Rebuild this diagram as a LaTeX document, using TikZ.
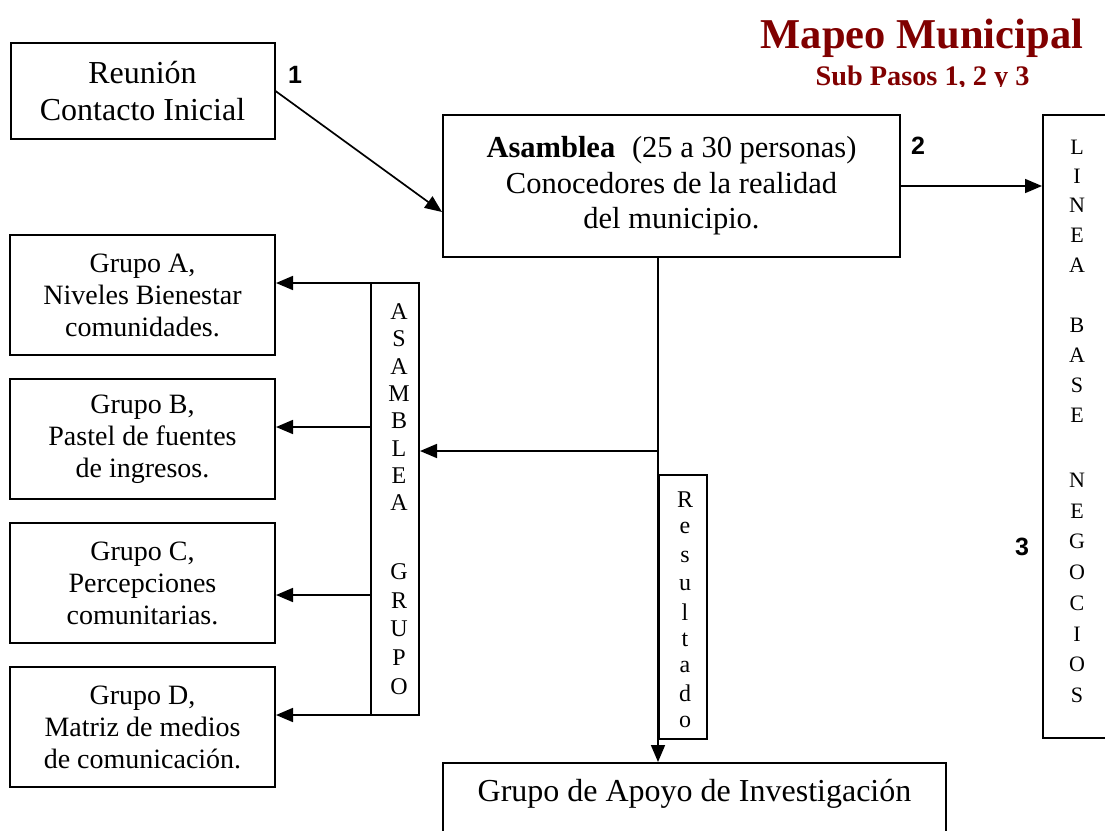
\documentclass[tikz,border=0pt]{standalone}
\usepackage{fontspec}
\setmainfont{Liberation Serif}
\newfontfamily\numfont{Liberation Sans}
\usetikzlibrary{arrows.meta}
\definecolor{titlered}{RGB}{128,0,0}
\begin{document}
\begin{tikzpicture}[x=1pt,y=-1pt,
  box/.style={draw, line width=2pt, inner sep=0pt, align=center},
  arr/.style={line width=1.7pt, -{Triangle[length=17pt,width=14pt]}},
  grp/.style={box, minimum width=265pt, minimum height=120pt, font=\fontsize{28}{32}\selectfont},
  vlet/.style={inner sep=0pt, font=\fontsize{24}{24}\selectfont},
  llet/.style={inner sep=0pt, font=\fontsize{22}{22}\selectfont},
  num/.style={inner sep=0pt, font=\numfont\bfseries\fontsize{25}{25}\selectfont}]
\useasboundingbox (0,0) rectangle (1105,830);

% title
\node[font=\bfseries\fontsize{42.5}{42.5}\selectfont, text=titlered, inner sep=0pt, anchor=base] (title) at (922,48) {Mapeo Municipal};
\begin{scope}
\clip (700,55) rectangle (1105,86.5);
\node[font=\bfseries\fontsize{28.3}{28.3}\selectfont, text=titlered, inner sep=0pt, anchor=base] (sub) at (922.5,85) {Sub Pasos 1, 2 y 3};
\end{scope}

% main boxes
\node[box, minimum width=264pt, minimum height=96pt, font=\fontsize{32}{37}\selectfont] (reunion) at (142.5,91) {Reunión\\Contacto Inicial};
\node[box, minimum width=457pt, minimum height=142pt, font=\fontsize{30.5}{35.5}\selectfont] (asamblea) at (671.5,186)
  {\textbf{Asamblea}\hspace{0.55em}(25 a 30 personas)\\Conocedores de la realidad\\del municipio.};
\node[box, minimum width=70pt, minimum height=623pt] (linea) at (1078,426.5) {};
\node[box, minimum width=503pt, minimum height=90pt] (apoyo) at (694.5,808) {};
\node[inner sep=0pt, font=\fontsize{32}{37}\selectfont] (apoyotxt) at (694.5,794) {Grupo de Apoyo de Investigación};

% groups
\node[grp] (grpA) at (142.5,295) {Grupo A,\\Niveles Bienestar\\comunidades.};
\node[grp] (grpB) at (142.5,439) {Grupo B,\\Pastel de fuentes\\de ingresos.};
\node[grp] (grpC) at (142.5,583) {Grupo C,\\Percepciones\\comunitarias.};
\node[grp] (grpD) at (142.5,727) {Grupo D,\\Matriz de medios\\de comunicación.};

% vertical boxes
\node[box, minimum width=48pt, minimum height=432pt] (asg) at (395,499) {};
\node[box, minimum width=48pt, minimum height=264pt] (resultado) at (683,607) {};

% letters ASAMBLEA GRUPO
\foreach \l/\y [count=\i] in {A/312,S/339,A/367,M/394,B/421,L/449,E/476,A/503,G/572,R/601,U/629,P/658,O/687}
  \node[vlet] (asg\i) at (399,\y) {\l};
% letters Resultado
\foreach \l/\y [count=\i] in {R/500,e/528,s/557,u/585,l/612,t/640,a/667,d/693,o/722}
  \node[vlet] (res\i) at (685,\y) {\l};
% letters LINEA BASE NEGOCIOS
\foreach \l/\y [count=\i] in {L/147,I/176,N/205,E/235,A/265,B/325,A/355,S/385,E/415,N/480,E/511,G/541,O/572,C/603,I/634,O/664,S/695}
  \node[llet] (lin\i) at (1077,\y) {\l};

% step numbers
\node[num] (n1) at (295,75) {1};
\node[num] (n2) at (918,146) {2};
\node[num] (n3) at (1022,547) {3};

% connectors
\draw[arr] (reunion.east) -- ([yshift=-26pt]asamblea.west);
\draw[arr] (asamblea.east) -- (asamblea.east -| linea.west);
\coordinate (jn) at (resultado.west |- 0,451);
\draw[arr] (asamblea.south -| resultado.west) -- (apoyo.north -| resultado.west);
\draw[arr] (jn) -- (jn -| asg.east);
\draw[arr] ([yshift=12pt]grpA.east -| asg.west) -- ([yshift=12pt]grpA.east);
\draw[arr] ([yshift=12pt]grpB.east -| asg.west) -- ([yshift=12pt]grpB.east);
\draw[arr] ([yshift=-12pt]grpC.east -| asg.west) -- ([yshift=-12pt]grpC.east);
\draw[arr] ([yshift=12pt]grpD.east -| asg.west) -- ([yshift=12pt]grpD.east);
\end{tikzpicture}
\end{document}
